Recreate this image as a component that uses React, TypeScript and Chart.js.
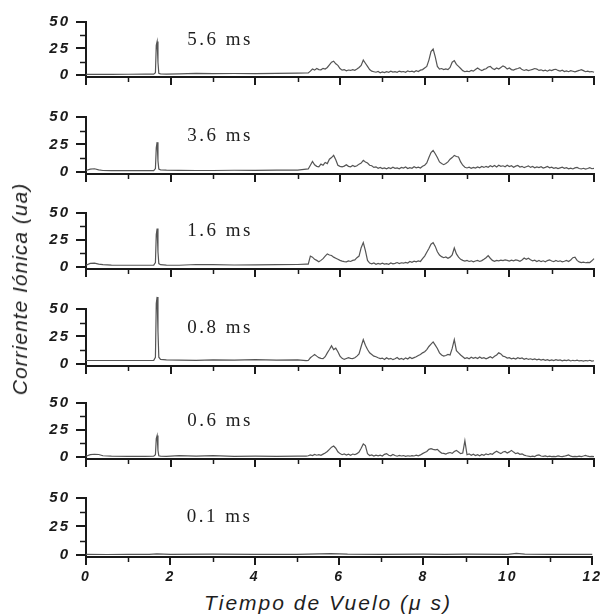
import React, { useEffect, useRef } from 'react';
import { Chart, registerables } from 'chart.js';
Chart.register(...registerables);

// ---------- data ----------
const X_LEFT = [0, 0.1, 0.2, 0.3, 0.4, 0.6, 1.0, 1.4, 1.6, 1.64, 1.66, 1.68, 1.7, 1.72, 1.76, 1.9, 2.2, 2.6, 3.0, 3.5, 4.0, 4.5, 5.0];
const X_RIGHT = [
  5.2, 5.25, 5.3, 5.35, 5.4, 5.45, 5.5, 5.55, 5.6, 5.65,
  5.7, 5.75, 5.8, 5.85, 5.9, 5.95, 6, 6.05, 6.1, 6.15,
  6.2, 6.25, 6.3, 6.35, 6.4, 6.45, 6.5, 6.55, 6.6, 6.65,
  6.7, 6.75, 6.8, 6.85, 6.9, 6.95, 7, 7.05, 7.1, 7.15,
  7.2, 7.25, 7.3, 7.35, 7.4, 7.45, 7.5, 7.55, 7.6, 7.65,
  7.7, 7.75, 7.8, 7.85, 7.9, 7.95, 8, 8.05, 8.1, 8.15,
  8.2, 8.25, 8.3, 8.35, 8.4, 8.45, 8.5, 8.55, 8.6, 8.65,
  8.7, 8.75, 8.8, 8.85, 8.9, 8.95, 9, 9.05, 9.1, 9.15,
  9.2, 9.25, 9.3, 9.35, 9.4, 9.45, 9.5, 9.55, 9.6, 9.65,
  9.7, 9.75, 9.8, 9.85, 9.9, 9.95, 10, 10.05, 10.1, 10.15,
  10.2, 10.25, 10.3, 10.35, 10.4, 10.45, 10.5, 10.55, 10.6, 10.65,
  10.7, 10.75, 10.8, 10.85, 10.9, 10.95, 11, 11.05, 11.1, 11.15,
  11.2, 11.25, 11.3, 11.35, 11.4, 11.45, 11.5, 11.55, 11.6, 11.65,
  11.7, 11.75, 11.8, 11.85, 11.9, 11.95, 12,
];

// 5.6 ms
const P1_LEFT = [0.4, 0.4, 0.5, 0.5, 0.5, 0.5, 0.6, 0.7, 0.7, 2, 28, 31.5, 12, 1.5, 1, 0.8, 1, 1.5, 1.1, 1.3, 1.2, 1.5, 1.6];
const P1_RIGHT = [
  1.8, 1.8, 3.5, 5.5, 4.5, 6, 5, 4.8, 6.2, 5.5,
  7, 9.5, 12, 13, 10.5, 9, 6, 4.5, 5, 3.8,
  4.6, 4.2, 5, 4.4, 5.5, 7, 9, 14, 11, 8,
  5, 3.5, 3, 2.5, 3.2, 2, 2.8, 2.2, 3, 2.5,
  3.5, 2.6, 3, 2.4, 3.6, 2.8, 3.2, 2.5, 3.8, 3,
  3.5, 2.7, 4, 3.2, 4.5, 5, 6.5, 8, 14, 22,
  24.5, 17, 8, 5.5, 6, 5, 5.6, 5, 7, 12,
  13.5, 10, 8, 6, 4, 3, 3.6, 3, 4.2, 3.5,
  5, 6.5, 5, 4, 5.2, 5.8, 7.5, 8, 6, 5,
  6.5, 5.5, 7, 8.5, 7.5, 5.5, 6.5, 5, 4.5, 5.5,
  6, 6.8, 5, 4.2, 5, 4, 4.6, 5.2, 6, 5.5,
  4.2, 4.8, 3.8, 4.5, 3.5, 4.6, 4, 5, 5.3, 4.2,
  3.6, 4.4, 3.2, 3.8, 3, 4, 3.4, 2.8, 3.6, 4.2,
  5, 4, 3, 3.5, 2.8, 3.2, 2.5,
];

// 3.6 ms
const P2_LEFT = [1.2, 2.5, 2.8, 1.8, 1.2, 1, 1, 1.1, 1.1, 3, 22, 27, 10, 2.5, 1.8, 1.5, 1.3, 1.2, 1.2, 1.4, 1.3, 1.5, 1.6];
const P2_RIGHT = [
  2.5, 2.6, 6, 9.5, 6.4, 5, 4.5, 7, 6, 8.5,
  7.5, 11.5, 13, 15, 11, 6, 5, 4.5, 5.2, 6.5,
  5, 4.6, 5.8, 4.8, 5.5, 7, 8, 10.5, 9, 8,
  6, 5.5, 4, 4.5, 3.2, 4, 3, 3.6, 2.8, 3.8,
  3, 4.2, 3.2, 3.6, 2.8, 4, 3.4, 4.4, 3, 3.8,
  3.2, 4.6, 3.6, 4.2, 3.5, 5, 6, 8, 13, 17.5,
  19.5, 16.5, 13, 9, 7.5, 6.5, 7.5, 9, 11.5, 13,
  15, 14, 13.5, 9, 6, 4.2, 3.5, 4.2, 3.2, 4,
  3.4, 4.4, 3.6, 4.8, 4, 5, 4.2, 5.6, 4.6, 5.8,
  4.4, 6, 5, 5.5, 4.6, 6, 4.8, 5.5, 4.2, 5.2,
  5.8, 4.4, 5, 3.8, 4.6, 5.4, 4, 4.8, 3.6, 4.4,
  3.8, 4.6, 3.4, 4, 4.8, 3.6, 4.2, 3.2, 3.8, 3,
  3.6, 4.2, 3.2, 3.8, 2.8, 3.4, 2.6, 3.6, 4, 3,
  2.6, 3.2, 2.4, 3, 3.8, 2.8, 3.2,
];

// 1.6 ms
const P3_LEFT = [1.5, 3.2, 3.5, 2.6, 2, 1.6, 1.5, 1.5, 1.6, 4, 30, 35.5, 14, 3, 2, 1.6, 1.5, 2.2, 2, 1.7, 1.8, 2, 2.2];
const P3_RIGHT = [
  2.6, 2.6, 10, 9, 7, 6, 4.7, 6, 7.6, 10,
  12, 11, 10.5, 9, 8, 7, 6, 5.3, 4.8, 4.7,
  5.5, 5, 6, 6.5, 8.5, 10, 17.8, 22.5, 15, 6,
  3.5, 2.8, 3.6, 2.4, 3.2, 2.6, 3.4, 2.5, 3, 2.4,
  3.6, 2.8, 3.2, 4, 3, 3.8, 3.4, 4.2, 3.6, 5,
  4.2, 5.3, 4.6, 5.5, 5, 7.6, 10, 13.5, 17, 21,
  22.5, 19, 14, 11, 9.5, 8.5, 9.2, 8, 9, 11,
  17.5, 12, 9, 7, 6, 5.3, 6, 5, 5.6, 4.6,
  5.4, 6, 5, 5.8, 7, 8.5, 10.5, 8, 6, 5.2,
  6, 5.6, 6.2, 5.8, 6.4, 6, 5.4, 6.2, 5.6, 6.4,
  6, 5.2, 6.4, 8.2, 7, 8, 6.5, 5.6, 6.2, 5,
  6, 4.8, 5.6, 4.7, 5.8, 6.5, 5.4, 4.8, 6, 5,
  5.6, 4.7, 5.2, 6, 5, 6.4, 8.5, 9, 6, 4.6,
  4, 4.4, 3.8, 4.2, 4, 5.6, 7.6,
];

// 0.8 ms
const P4_LEFT = [3, 3, 3, 3, 3, 3, 3, 3, 3.2, 6, 55, 61, 30, 6, 4, 3.5, 3.3, 3.2, 3.6, 3.3, 3.8, 3.4, 3.5];
const P4_RIGHT = [
  2.9, 3, 5.5, 7, 8.5, 7, 5.6, 5, 4.7, 6.5,
  10, 13, 16.4, 13, 14.3, 11, 7, 5, 4, 4.8,
  5.6, 5, 4.7, 5.5, 7, 9, 15.8, 22, 17, 13,
  10, 8.5, 7, 6.4, 5.5, 4.7, 5.2, 4, 5.6, 4.4,
  5, 3.8, 4.6, 5.8, 4.2, 5, 4, 5.4, 4.4, 6,
  4.8, 5.6, 6.4, 7.5, 8.5, 10, 11, 13, 15.8, 18,
  20, 17, 14, 10, 8, 7, 7.6, 8.5, 8, 14,
  22, 12, 10, 8, 6.4, 4.8, 5.6, 4.6, 6, 5,
  5.8, 4.8, 6.2, 5, 5.6, 4.6, 5.4, 6.4, 5.2, 6.8,
  8, 10, 9, 7, 6.5, 5.2, 5.6, 4.6, 5.2, 4.4,
  5.6, 4.8, 5.4, 4.2, 5, 4, 4.6, 3.8, 4.4, 3.6,
  4.2, 3.4, 4, 3.2, 3.8, 3, 3.6, 3, 3.8, 3.2,
  3.6, 2.8, 3.4, 3, 3.6, 2.6, 3.2, 2.8, 3.4, 2.6,
  3, 2.4, 3, 2.6, 3.2, 2.5, 2.8,
];

// 0.6 ms
const P5_LEFT = [0.5, 2, 2.4, 2.2, 1, 0.6, 0.5, 0.5, 0.6, 2, 17, 19.8, 6, 1, 0.6, 0.5, 1.2, 0.6, 1.1, 0.5, 0.6, 0.5, 0.6];
const P5_RIGHT = [
  0.6, 1, 1.8, 1.2, 2.3, 1.5, 2, 1.4, 2.5, 3.5,
  5, 7, 9, 10, 8, 4.7, 3, 2, 2.8, 1.6,
  2.4, 1.5, 2.6, 2, 3, 4.5, 8, 12, 10.5, 3,
  1.2, 1.8, 0.8, 1.5, 1, 1.6, 0.8, 2.3, 3, 1.5,
  1, 2.2, 1.2, 0.6, 1.4, 0.8, 1.2, 0.5, 1, 0.6,
  1.2, 0.8, 1.5, 1, 1.8, 3, 4, 5, 7, 7.6,
  7, 6.5, 7, 5, 3.5, 3.2, 2.5, 3.5, 4, 3.2,
  5, 6, 4.5, 3, 3.6, 15, 2, 2.8, 1.5, 2.5,
  1.2, 2, 1, 2.2, 1.4, 2.8, 2, 3, 2.4, 4,
  5.3, 4, 3, 4.5, 5, 3.6, 4.6, 6, 4.4, 3,
  3.6, 2.4, 2.8, 1.6, 1, 0.6, 0.3, 0.6, 0.2, 1.4,
  1.8, 0.8, 0.4, 0.8, 0.3, 0.6, 0.2, 0.5, 0.3, 0.8,
  0.4, 0.2, 0.6, 1.2, 1.8, 0.6, 0.3, 0.5, 0.2, 0.6,
  0.3, 0.8, 1.4, 0.6, 0.3, 0.5, 0.2,
];

// 0.1 ms
const P6_X = [0, 0.5, 1.0, 1.5, 1.68, 2.0, 3.0, 4.0, 5.0, 5.8, 6.2, 7.0, 8.0, 8.5, 9.0, 10.0, 10.2, 10.4, 11.0, 12.0];
const P6_Y = [0.3, 0.2, 0.3, 0.4, 0.8, 0.3, 0.5, 0.3, 0.4, 0.9, 0.5, 0.4, 0.6, 0.4, 0.5, 0.4, 1.2, 0.5, 0.4, 0.3];

const DELAYS = ['5.6 ms', '3.6 ms', '1.6 ms', '0.8 ms', '0.6 ms', '0.1 ms'];
const SERIES_X = [
  [...X_LEFT, ...X_RIGHT],
  [...X_LEFT, ...X_RIGHT],
  [...X_LEFT, ...X_RIGHT],
  [...X_LEFT, ...X_RIGHT],
  [...X_LEFT, ...X_RIGHT],
  P6_X,
];
const SERIES_Y = [
  [...P1_LEFT, ...P1_RIGHT],
  [...P2_LEFT, ...P2_RIGHT],
  [...P3_LEFT, ...P3_RIGHT],
  [...P4_LEFT, ...P4_RIGHT],
  [...P5_LEFT, ...P5_RIGHT],
  P6_Y,
];
const Y_TICKS = [0, 25, 50];
const Y_MINOR = [12.5, 37.5];
const X_TICKS = [0, 2, 4, 6, 8, 10, 12];
const X_MINOR = [1, 3, 5, 7, 9, 11];
const X_TITLE = 'Tiempo de Vuelo (\u03bc s)';
const Y_TITLE = 'Corriente I\u00f3nica (ua)';

// ---------- layout ----------
const W = 604;
const H = 614;
const PANEL_TOP = [22, 117, 213, 309, 403, 498];
const PANEL_BOTTOM = [80, 177, 272, 369, 462, 557];
const PAD_TOP = 16;
const SANS = '"Liberation Sans", Arial, sans-serif';
const INK = '#1a1a1a';

const decoPlugin = {
  id: 'deco',
  beforeDraw(chart: any) {
    chart.ctx.letterSpacing = '2px';
  },
  afterDraw(chart: any, _args: any, opts: any) {
    const { ctx, chartArea } = chart;
    const xs = chart.scales.x;
    const ys = chart.scales.y;
    ctx.save();
    ctx.strokeStyle = INK;
    ctx.lineWidth = 1.5;
    X_MINOR.forEach((v) => {
      const px = Math.round(xs.getPixelForValue(v)) + 0.5;
      ctx.beginPath();
      ctx.moveTo(px, chartArea.bottom);
      ctx.lineTo(px, chartArea.bottom + 5);
      ctx.stroke();
    });
    Y_MINOR.forEach((v) => {
      const py = Math.round(ys.getPixelForValue(v)) + 0.5;
      ctx.beginPath();
      ctx.moveTo(chartArea.left, py);
      ctx.lineTo(chartArea.left - 6, py);
      ctx.stroke();
    });
    ctx.letterSpacing = '2.5px';
    ctx.font = '19px "Liberation Serif", "Times New Roman", serif';
    ctx.fillStyle = '#1e1e1e';
    ctx.textAlign = 'left';
    ctx.textBaseline = 'middle';
    ctx.fillText(opts.label, xs.getPixelForValue(2.39), ys.getPixelForValue(33));
    ctx.restore();
  },
};

function Panel({ idx }: { idx: number }) {
  const ref = useRef<HTMLCanvasElement | null>(null);
  const last = idx === 5;
  const top = PANEL_TOP[idx];
  const bottom = PANEL_BOTTOM[idx];
  const bottomSpace = last ? 32 : 12;
  const cw = W;
  const ch = PAD_TOP + (bottom - top) + bottomSpace;

  useEffect(() => {
    if (!ref.current) return;
    const xsArr = SERIES_X[idx];
    const ysArr = SERIES_Y[idx];
    const chart = new Chart(ref.current, {
      type: 'line',
      data: {
        datasets: [
          {
            data: xsArr.map((x, i) => ({ x, y: ysArr[i] })),
            borderColor: '#555555',
            borderWidth: 1.2,
            pointRadius: 0,
            tension: 0,
            clip: false,
          } as any,
        ],
      },
      options: {
        animation: false,
        responsive: false,
        devicePixelRatio: 1,
        layout: { padding: { top: PAD_TOP, right: 10, left: 0, bottom: 0 } },
        plugins: {
          legend: { display: false },
          tooltip: { enabled: false },
          deco: { label: DELAYS[idx] },
        } as any,
        scales: {
          x: {
            type: 'linear',
            min: 0,
            max: 12,
            afterBuildTicks: (s: any) => {
              s.ticks = X_TICKS.map((v) => ({ value: v }));
            },
            afterFit: (s: any) => {
              s.height = bottomSpace;
            },
            grid: { drawOnChartArea: false, drawTicks: true, tickLength: 8, color: INK, lineWidth: 2 },
            border: { display: true, color: INK, width: 2 },
            ticks: {
              display: last,
              autoSkip: false,
              maxRotation: 0,
              padding: 4,
              color: INK,
              font: { family: SANS, style: 'italic', weight: 'bold', size: 14 },
            },
          },
          y: {
            type: 'linear',
            min: -2,
            max: 50,
            afterBuildTicks: (s: any) => {
              s.ticks = Y_TICKS.map((v) => ({ value: v }));
            },
            afterFit: (s: any) => {
              s.width = 86;
            },
            grid: { drawOnChartArea: false, drawTicks: true, tickLength: 10, color: INK, lineWidth: 2 },
            border: { display: true, color: INK, width: 2 },
            ticks: {
              padding: 6,
              color: INK,
              font: { family: SANS, style: 'italic', weight: 'bold', size: 15 },
            },
          },
        },
      } as any,
      plugins: [decoPlugin],
    });
    return () => chart.destroy();
  }, [idx]);

  return (
    <canvas
      ref={ref}
      width={cw}
      height={ch}
      style={{ position: 'absolute', left: 0, top: top - PAD_TOP, width: cw, height: ch, display: 'block' }}
    />
  );
}

export default function App() {
  return (
    <div style={{ position: 'absolute', left: 0, top: 0, width: W, height: H, background: '#fff', overflow: 'hidden' }}>
      {DELAYS.map((_, i) => (
        <Panel key={i} idx={i} />
      ))}
      <div
        style={{
          position: 'absolute',
          left: 20,
          top: 289,
          transform: 'translate(-50%, -50%) rotate(-90deg)',
          whiteSpace: 'nowrap',
          font: `italic 21px ${SANS}`,
          letterSpacing: '1px',
          color: '#1e1e1e',
        }}
      >
        {Y_TITLE}
      </div>
      <div
        style={{
          position: 'absolute',
          left: 328,
          top: 603,
          transform: 'translate(-50%, -50%)',
          whiteSpace: 'nowrap',
          font: `italic 21px ${SANS}`,
          letterSpacing: '2px',
          color: '#1e1e1e',
        }}
      >
        {X_TITLE}
      </div>
    </div>
  );
}
